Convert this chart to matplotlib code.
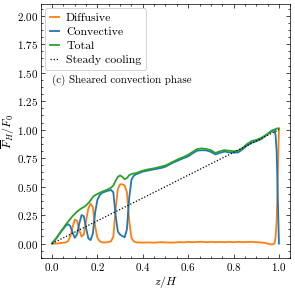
import matplotlib
matplotlib.use("Agg")
import matplotlib.pyplot as plt
from matplotlib.ticker import MultipleLocator, AutoMinorLocator

plt.rcParams.update({
    "font.family": "serif",
    "font.serif": ["cmr10"],
    "mathtext.fontset": "cm",
    "axes.formatter.use_mathtext": True,
    "axes.unicode_minus": False,
})

# ---- data ----
z = [0.00, 0.02, 0.04, 0.06, 0.07, 0.08, 0.09, 0.10, 0.11, 0.12, 0.13, 0.14,
     0.15, 0.16, 0.17, 0.18, 0.19, 0.20, 0.21, 0.22, 0.24, 0.26, 0.27, 0.28,
     0.29, 0.30, 0.31, 0.32, 0.33, 0.34, 0.35, 0.36, 0.37, 0.40, 0.42, 0.45,
     0.48, 0.50, 0.53, 0.56, 0.58, 0.60, 0.62, 0.64, 0.66, 0.68, 0.70, 0.72,
     0.74, 0.76, 0.78, 0.80, 0.82, 0.84, 0.86, 0.88, 0.90, 0.92, 0.94, 0.96,
     0.97, 0.98, 0.985, 0.99, 0.995, 1.00]

total = [0.000, 0.050, 0.110, 0.165, 0.190, 0.215, 0.240, 0.260, 0.280, 0.295,
         0.310, 0.320, 0.335, 0.355, 0.380, 0.410, 0.425, 0.435, 0.445, 0.455,
         0.470, 0.490, 0.510, 0.550, 0.585, 0.598, 0.585, 0.565, 0.575, 0.600,
         0.610, 0.615, 0.618, 0.640, 0.650, 0.660, 0.675, 0.685, 0.715, 0.745,
         0.760, 0.780, 0.805, 0.830, 0.835, 0.830, 0.820, 0.795, 0.810, 0.820,
         0.815, 0.810, 0.815, 0.840, 0.875, 0.900, 0.910, 0.925, 0.950, 0.975,
         0.985, 1.000, 1.005, 1.010, 1.010, 1.010]

diffusive = [0.000, 0.000, 0.005, 0.010, 0.020, 0.060, 0.140, 0.210, 0.200, 0.120,
             0.060, 0.080, 0.200, 0.310, 0.350, 0.320, 0.150, 0.050, 0.020, 0.010,
             0.010, 0.020, 0.060, 0.300, 0.480, 0.520, 0.520, 0.510, 0.450, 0.200,
             0.050, 0.020, 0.010, 0.008, 0.010, 0.008, 0.012, 0.010, 0.008, 0.012,
             0.010, 0.015, 0.012, 0.014, 0.016, 0.012, 0.015, 0.012, 0.014, 0.012,
             0.015, 0.012, 0.015, 0.012, 0.014, 0.015, 0.012, 0.010, 0.005, -0.005,
             -0.008, 0.000, 0.050, 0.200, 0.600, 1.010]

convective = [0.000, 0.050, 0.105, 0.155, 0.170, 0.155, 0.100, 0.050, 0.080, 0.175,
              0.250, 0.240, 0.135, 0.045, 0.030, 0.090, 0.275, 0.385, 0.425, 0.445,
              0.460, 0.470, 0.450, 0.250, 0.105, 0.078, 0.065, 0.055, 0.125, 0.400,
              0.560, 0.595, 0.608, 0.632, 0.640, 0.652, 0.663, 0.675, 0.707, 0.733,
              0.750, 0.765, 0.793, 0.816, 0.819, 0.818, 0.805, 0.783, 0.796, 0.808,
              0.800, 0.798, 0.800, 0.828, 0.861, 0.885, 0.898, 0.915, 0.945, 0.980,
              0.993, 1.000, 0.955, 0.810, 0.410, 0.000]

steady_z = [0.0, 1.0]
steady_f = [0.0, 1.0]

xticks = [0.0, 0.2, 0.4, 0.6, 0.8, 1.0]
yticks = [0.00, 0.25, 0.50, 0.75, 1.00, 1.25, 1.50, 1.75, 2.00]

fig = plt.figure(figsize=(2.95, 2.89), dpi=100)
ax = fig.add_axes([0.138, 0.108, 0.846, 0.877])

ax.plot(z, diffusive, color="#ff7f0e", lw=1.3, label="Diffusive")
ax.plot(z, convective, color="#1f77b4", lw=1.3, label="Convective")
ax.plot(z, total, color="#2ca02c", lw=1.3, label="Total")
ax.plot(steady_z, steady_f, color="black", lw=0.9, ls=(0, (1, 1.5)), label="Steady cooling")

ax.set_xlim(-0.05, 1.05)
ax.set_ylim(-0.125, 2.1)
ax.set_xticks(xticks)
ax.set_yticks(yticks)
ax.xaxis.set_minor_locator(MultipleLocator(0.05))
ax.yaxis.set_minor_locator(AutoMinorLocator(4))
ax.tick_params(which="both", direction="in", top=True, right=True, labelsize=8, pad=2)
ax.tick_params(which="major", length=3, width=0.5)
ax.tick_params(which="minor", length=1.6, width=0.5)
for s in ax.spines.values():
    s.set_linewidth(0.5)

ax.set_xlabel(r"$z/H$", fontsize=8.5, labelpad=1)
ax.set_ylabel(r"$\overline{F}_H/F_0$", fontsize=8.5, labelpad=0)

ax.text(0.0, 1.43, "(c) Sheared convection phase", fontsize=7.9, va="center", ha="left")

leg = ax.legend(loc="upper left", fontsize=8.5, handlelength=0.8, handletextpad=0.6,
                labelspacing=0.3, borderaxespad=0.35, borderpad=0.4, frameon=True,
                fancybox=True, edgecolor="#cccccc", framealpha=1.0)
leg.get_frame().set_linewidth(0.6)

fig.savefig("out.png", dpi=100)
